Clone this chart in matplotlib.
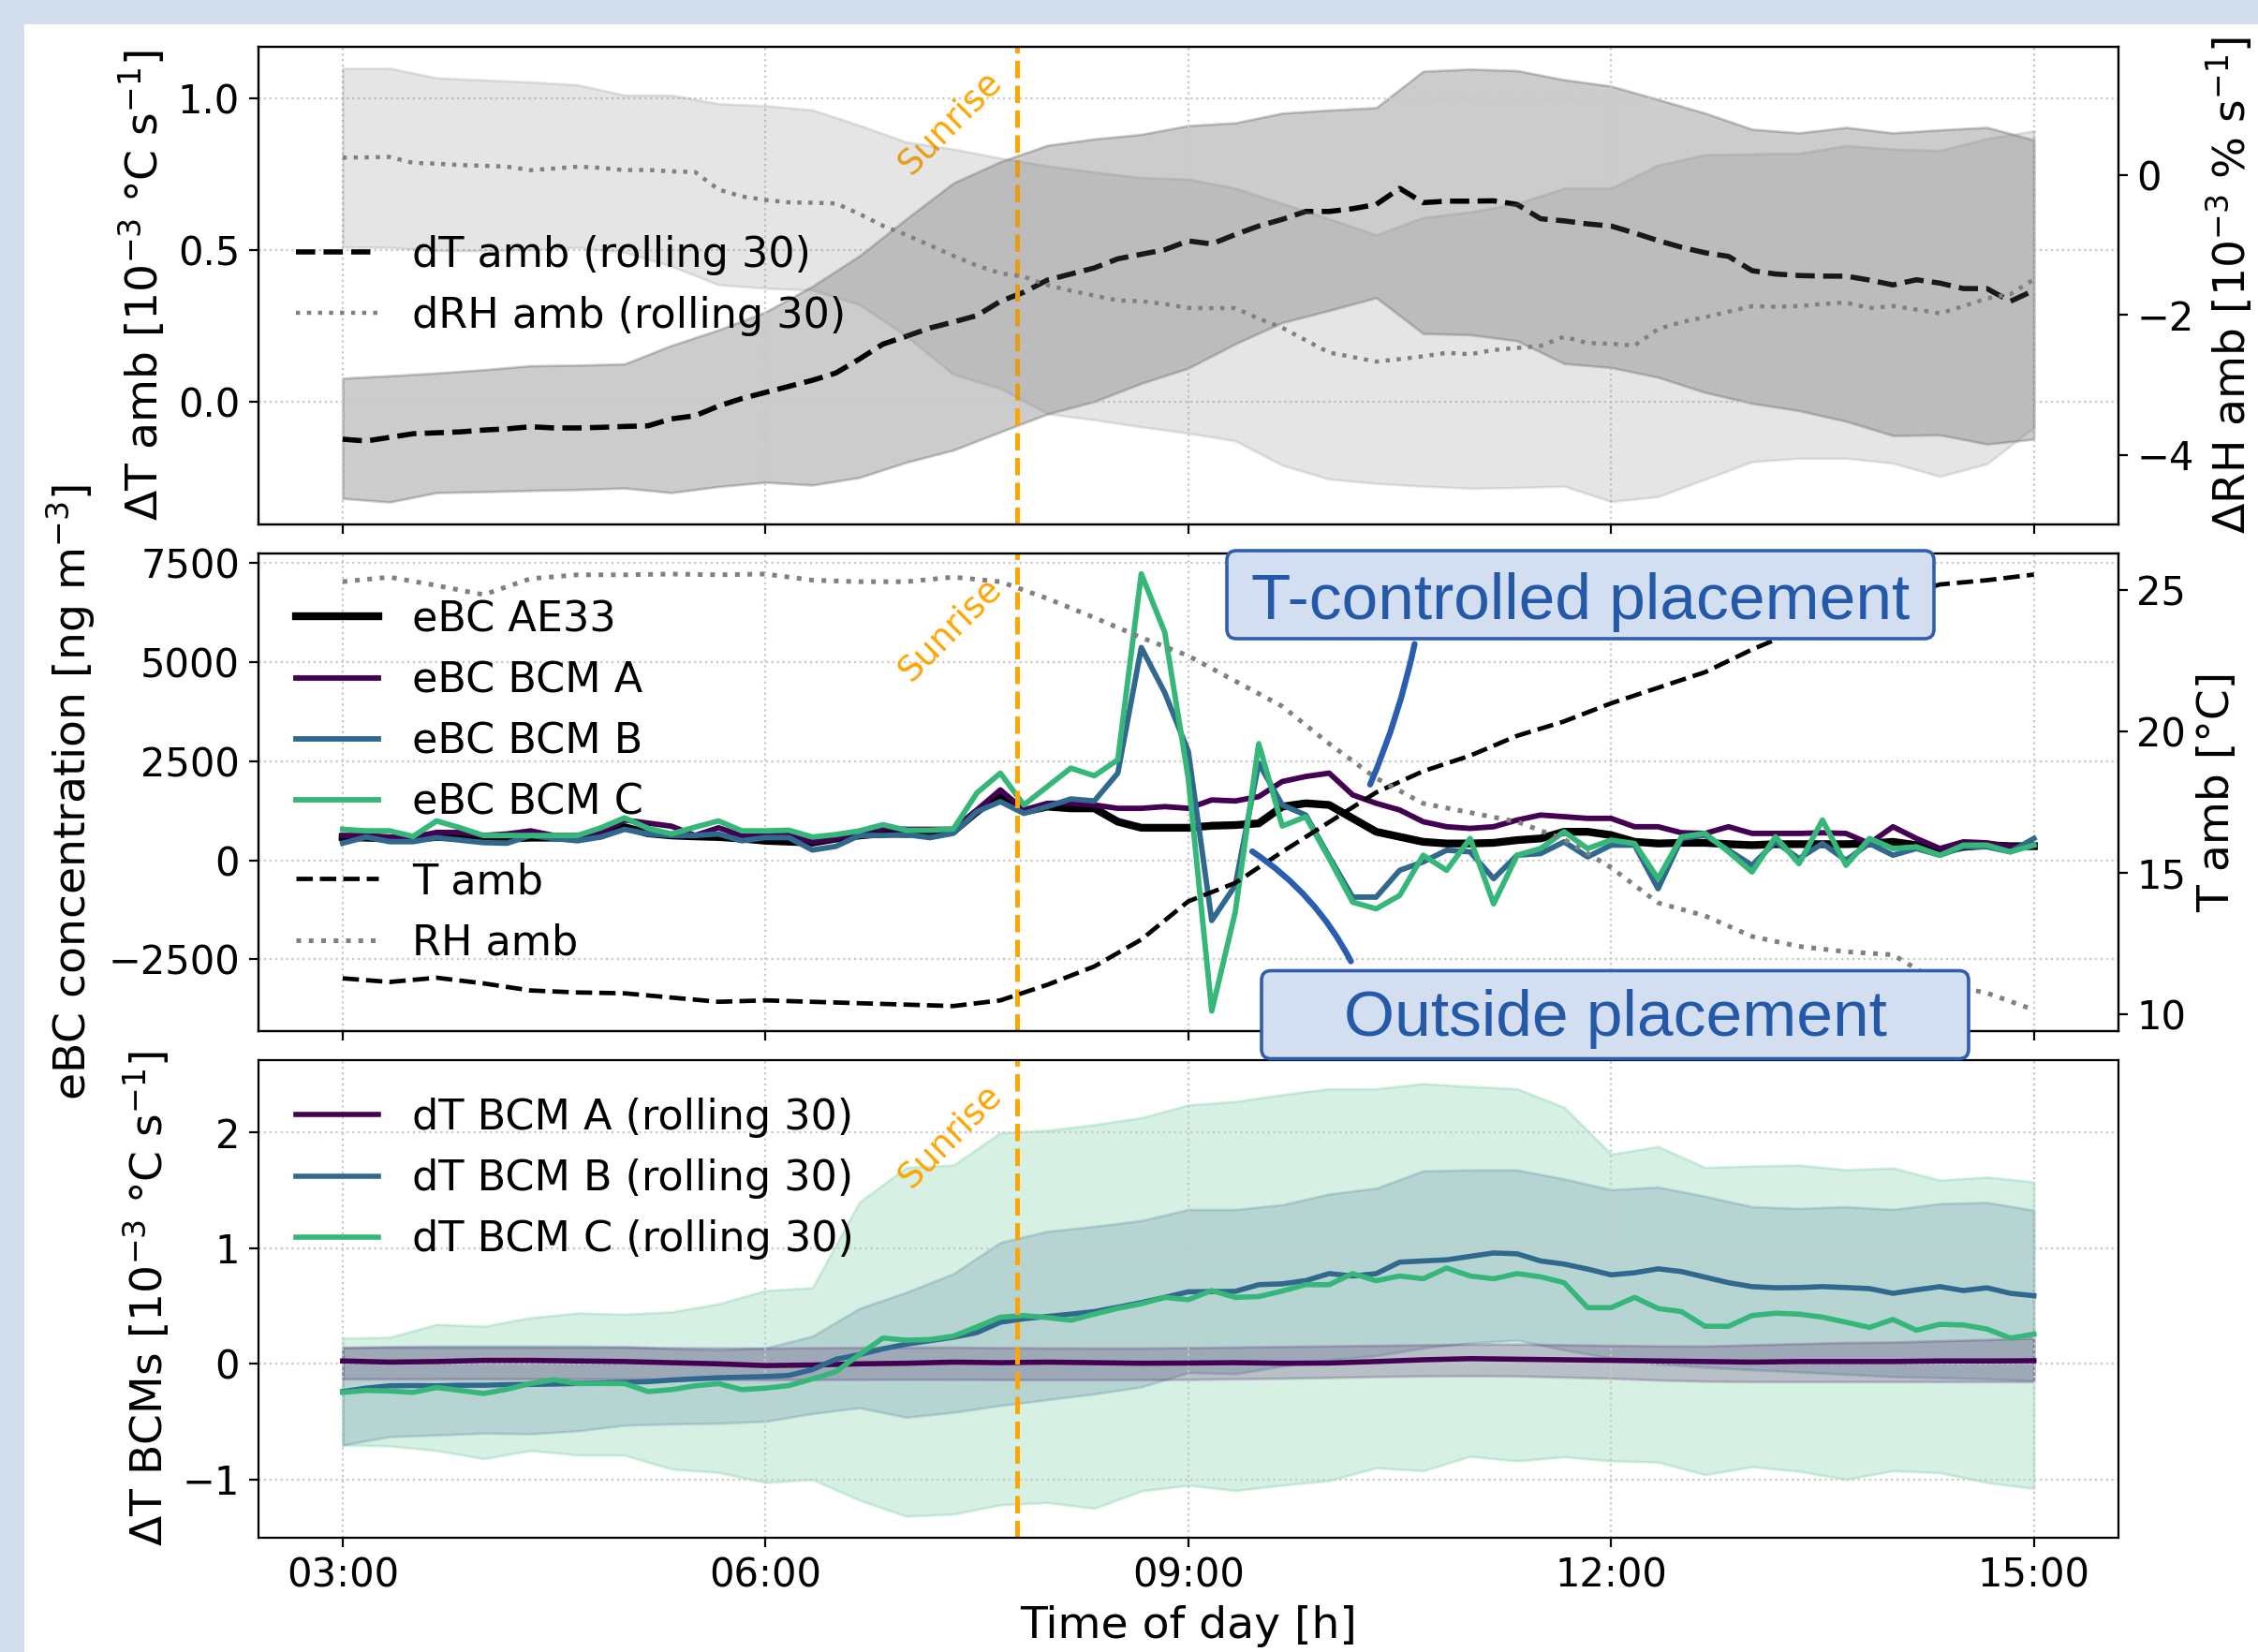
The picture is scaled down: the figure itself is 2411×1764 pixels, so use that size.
import numpy as np
import matplotlib
matplotlib.use("Agg")
import matplotlib.pyplot as plt
import matplotlib.transforms as mtransforms
from matplotlib.patches import FancyBboxPatch, Rectangle
from matplotlib.ticker import FuncFormatter

# time grids (hours of day)
t10 = 3 + np.arange(73) / 6.0   # 10 min steps 03:00 .. 15:00
t20 = 3 + np.arange(37) / 3.0   # 20 min steps 03:00 .. 15:00
sunrise = 7 + 47 / 60

# ---- top panel: ambient derivatives (rolling 30) ----
dT_amb = [-0.124, -0.130, -0.118, -0.106, -0.103, -0.100,
          -0.094, -0.090, -0.083, -0.087, -0.087, -0.085,
          -0.082, -0.080, -0.057, -0.047, -0.015, 0.010,
          0.030, 0.050, 0.070, 0.094, 0.140, 0.189,
          0.215, 0.242, 0.262, 0.283, 0.330, 0.360,
          0.400, 0.420, 0.440, 0.470, 0.485, 0.500,
          0.529, 0.519, 0.550, 0.578, 0.600, 0.626,
          0.626, 0.635, 0.649, 0.702, 0.655, 0.660,
          0.660, 0.661, 0.649, 0.602, 0.595, 0.585,
          0.578, 0.555, 0.530, 0.508, 0.490, 0.478,
          0.431, 0.420, 0.415, 0.413, 0.413, 0.400,
          0.384, 0.401, 0.390, 0.372, 0.372, 0.330,
          0.366]
dRH_amb = [0.256, 0.260, 0.266, 0.180, 0.170, 0.150,
           0.140, 0.127, 0.077, 0.100, 0.127, 0.110,
           0.077, 0.080, 0.060, 0.050, -0.200, -0.300,
           -0.350, -0.385, -0.390, -0.400, -0.550, -0.720,
           -0.850, -1.000, -1.150, -1.290, -1.400, -1.450,
           -1.570, -1.650, -1.720, -1.790, -1.800, -1.840,
           -1.897, -1.900, -1.900, -2.050, -2.180, -2.360,
           -2.537, -2.600, -2.666, -2.630, -2.590, -2.540,
           -2.560, -2.500, -2.470, -2.440, -2.310, -2.400,
           -2.410, -2.435, -2.200, -2.100, -2.030, -1.950,
           -1.871, -1.880, -1.870, -1.840, -1.820, -1.900,
           -1.870, -1.920, -1.975, -1.871, -1.760, -1.700,
           -1.487]
dT_band_lo = [-0.319, -0.331, -0.300, -0.297, -0.293, -0.290,
              -0.285, -0.300, -0.280, -0.266, -0.275, -0.250,
              -0.200, -0.160, -0.100, -0.041, 0.000, 0.060,
              0.110, 0.190, 0.260, 0.300, 0.342, 0.224,
              0.220, 0.200, 0.125, 0.112, 0.080, 0.030,
              -0.006, -0.030, -0.065, -0.112, -0.110, -0.140,
              -0.124]
dT_band_hi = [0.077, 0.085, 0.094, 0.105, 0.118, 0.120,
              0.124, 0.185, 0.236, 0.295, 0.380, 0.480,
              0.602, 0.720, 0.790, 0.844, 0.865, 0.880,
              0.909, 0.918, 0.950, 0.960, 0.968, 1.088,
              1.095, 1.090, 1.060, 1.039, 0.995, 0.950,
              0.897, 0.885, 0.903, 0.885, 0.895, 0.903,
              0.862]
dRH_band_lo = [-1.025, -1.030, -1.077, -1.077, -1.060, -1.030,
               -1.100, -1.300, -1.564, -1.615, -1.640, -1.850,
               -2.300, -2.850, -3.050, -3.410, -3.500, -3.600,
               -3.690, -3.800, -4.150, -4.350, -4.410, -4.450,
               -4.480, -4.470, -4.450, -4.670, -4.600, -4.350,
               -4.100, -4.050, -4.050, -4.120, -4.310, -4.130,
               -3.610]
dRH_band_hi = [1.538, 1.538, 1.400, 1.370, 1.340, 1.300,
               1.153, 1.153, 1.030, 1.000, 0.940, 0.720,
               0.480, 0.380, 0.250, 0.140, 0.050, -0.030,
               -0.050, -0.180, -0.400, -0.620, -0.850, -0.600,
               -0.520, -0.400, -0.180, -0.180, 0.150, 0.300,
               0.310, 0.320, 0.430, 0.380, 0.360, 0.530,
               0.640]

# ---- middle panel: eBC concentrations and ambient T / RH ----
ebc_ae33 = [586, 570, 547, 547, 586, 570, 547, 547, 570, 570, 570, 625,
            836, 680, 625, 602, 586, 547, 492, 469, 445, 547, 625, 680,
            664, 703, 730,
            1227, 1650, 1227, 1354, 1311, 1311, 973, 820, 820, 820, 871,
            888, 931, 1354, 1438, 1396, 1057, 719, 592, 465, 423,
            423, 440, 508, 550, 719, 719, 635, 465, 423, 440, 440, 406,
            381, 406, 406, 406, 406, 423, 465, 381, 212, 338, 381, 355,
            355]
ebc_a = [625, 625, 586, 586, 703, 703, 625, 664, 742, 625, 625, 703,
         1016, 938, 859, 625, 820, 625, 625, 648, 469, 547, 703, 805,
         781, 781, 781,
         1269, 1777, 1269, 1438, 1438, 1396, 1311, 1311, 1354, 1311, 1523,
         1497, 1607, 1988, 2115, 2200, 1650, 1438, 1269, 973, 846,
         804, 846, 1015, 1142, 1100, 1057, 1057, 846, 846, 694, 677, 846,
         677, 677, 677, 694, 677, 423, 846, 550, 296, 465, 440, 338,
         381]
ebc_b = [430, 586, 469, 469, 570, 508, 445, 430, 625, 547, 492, 586,
         781, 664, 625, 625, 664, 492, 570, 570, 258, 352, 625, 625,
         648, 570, 680,
         1227, 1480, 1184, 1354, 1548, 1497, 2200, 5372, 4230, 2750, -1523,
         -635, 2453, 1396, 1142, 85, -931, -931, -254, -42, 254,
         212, -465, 127, 169, 465, 85, 381, 381, -719, 550, 635, 254,
         -127, 465, 42, 423, 0, 423, 127, 296, 127, 338, 338, 212,
         550]
ebc_c = [781, 742, 742, 602, 992, 820, 625, 625, 625, 625, 625, 820,
         1070, 805, 664, 836, 992, 742, 742, 758, 586, 648, 742, 898,
         758, 758, 790,
         1700, 2200, 1396, 1861, 2327, 2132, 2538, 7233, 5753, 2073, -3807,
         -1311, 2944, 863, 1100, 42, -1058, -1227, -888, 127, -254,
         550, -1100, 127, 296, 719, 296, 508, 423, -465, 592, 677, 212,
         -296, 592, -85, 1015, -127, 550, 296, 338, 127, 381, 381, 212,
         381]
t_amb = [11.28, 11.15, 11.30, 11.10, 10.85, 10.78, 10.75, 10.60, 10.45,
         10.50, 10.45, 10.40, 10.35, 10.30, 10.50, 11.05, 11.70, 12.65,
         14.00, 14.65, 15.75, 16.80, 17.85, 18.60, 19.15, 19.85, 20.36,
         21.00, 21.55, 22.10, 22.90, 23.60, 24.20, 24.75, 25.20, 25.35,
         25.55]
rh_amb = [96.0, 96.6, 95.5, 94.3, 96.4, 96.9, 96.9, 97.0, 96.9,
          97.0, 96.2, 96.0, 96.0, 96.6, 96.0, 93.8, 91.3, 88.7,
          86.3, 83.0, 79.7, 74.8, 70.3, 67.0, 65.8, 64.6, 62.3,
          58.6, 54.0, 52.3, 49.6, 48.3, 47.6, 47.2, 43.5, 42.2,
          40.0]

# ---- bottom panel: BCM temperature derivatives (rolling 30) ----
dT_bcm_a = [0.025, 0.015, 0.020, 0.030, 0.030, 0.025, 0.020, 0.010, 0.000,
            -0.015, -0.010, 0.000, 0.005, 0.015, 0.010, 0.015, 0.010, 0.005,
            0.007, 0.010, 0.005, 0.007, 0.020, 0.035, 0.045, 0.040, 0.035,
            0.030, 0.025, 0.020, 0.015, 0.020, 0.020, 0.020, 0.025, 0.025,
            0.027]
dT_bcm_b = [-0.240, -0.210, -0.190, -0.188, -0.190, -0.185,
            -0.185, -0.180, -0.178, -0.175, -0.170, -0.165,
            -0.160, -0.154, -0.140, -0.130, -0.120, -0.115,
            -0.110, -0.100, -0.050, 0.040, 0.080, 0.130,
            0.170, 0.200, 0.230, 0.270, 0.360, 0.390,
            0.410, 0.430, 0.452, 0.490, 0.530, 0.575,
            0.623, 0.625, 0.627, 0.685, 0.692, 0.720,
            0.781, 0.760, 0.780, 0.880, 0.890, 0.900,
            0.930, 0.959, 0.952, 0.890, 0.863, 0.820,
            0.770, 0.788, 0.822, 0.798, 0.750, 0.702,
            0.668, 0.658, 0.660, 0.668, 0.660, 0.651,
            0.610, 0.640, 0.668, 0.634, 0.658, 0.610,
            0.589]
dT_bcm_c = [-0.247, -0.230, -0.235, -0.247, -0.205, -0.230,
            -0.257, -0.220, -0.170, -0.137, -0.171, -0.170,
            -0.171, -0.240, -0.223, -0.190, -0.171, -0.223,
            -0.210, -0.188, -0.130, -0.068, 0.080, 0.223,
            0.205, 0.210, 0.240, 0.320, 0.404, 0.418,
            0.400, 0.377, 0.430, 0.480, 0.520, 0.575,
            0.555, 0.634, 0.575, 0.582, 0.630, 0.685,
            0.685, 0.781, 0.719, 0.760, 0.736, 0.829,
            0.760, 0.736, 0.781, 0.753, 0.702, 0.486,
            0.486, 0.575, 0.479, 0.452, 0.325, 0.325,
            0.418, 0.438, 0.430, 0.404, 0.360, 0.315,
            0.384, 0.291, 0.342, 0.336, 0.301, 0.223,
            0.257]
a_band_lo = [-0.130, -0.131, -0.130, -0.130, -0.130, -0.131, -0.132, -0.133, -0.135,
             -0.137, -0.136, -0.135, -0.134, -0.135, -0.136, -0.137, -0.137, -0.137,
             -0.135, -0.130, -0.125, -0.118, -0.110, -0.105, -0.103, -0.105, -0.115,
             -0.125, -0.140, -0.150, -0.154, -0.154, -0.154, -0.154, -0.154, -0.154,
             -0.154]
a_band_hi = [0.144, 0.145, 0.145, 0.145, 0.145, 0.144, 0.144, 0.140, 0.138,
             0.137, 0.140, 0.142, 0.143, 0.144, 0.140, 0.138, 0.137, 0.137,
             0.140, 0.145, 0.150, 0.155, 0.160, 0.165, 0.170, 0.171, 0.165,
             0.160, 0.155, 0.154, 0.165, 0.175, 0.185, 0.188, 0.200, 0.210,
             0.223]
b_band_lo = [-0.702, -0.630, -0.616, -0.600, -0.605, -0.580, -0.531, -0.520, -0.514,
             -0.497, -0.430, -0.380, -0.462, -0.420, -0.360, -0.310, -0.260, -0.200,
             -0.075, -0.086, -0.020, 0.034, 0.070, 0.137, 0.180, 0.205, 0.120,
             0.050, 0.000, -0.030, -0.051, -0.070, -0.090, -0.110, -0.120, -0.130,
             -0.144]
b_band_hi = [0.137, 0.150, 0.154, 0.154, 0.154, 0.154, 0.150, 0.130, 0.120,
             0.137, 0.240, 0.480, 0.620, 0.780, 1.050, 1.147, 1.190, 1.240,
             1.336, 1.336, 1.377, 1.470, 1.520, 1.670, 1.678, 1.678, 1.600,
             1.507, 1.530, 1.450, 1.360, 1.345, 1.360, 1.336, 1.387, 1.397,
             1.329]
c_band_lo = [-0.702, -0.710, -0.750, -0.820, -0.750, -0.788, -0.790, -0.910, -0.940,
             -1.027, -1.000, -1.180, -1.318, -1.300, -1.220, -1.200, -1.250, -1.100,
             -1.050, -1.096, -1.050, -1.010, -0.900, -0.925, -0.800, -0.840, -0.805,
             -0.839, -0.850, -0.959, -0.890, -0.930, -1.000, -0.925, -0.942, -1.027,
             -1.079]
c_band_hi = [0.223, 0.230, 0.342, 0.325, 0.400, 0.440, 0.430, 0.450, 0.520,
             0.634, 0.660, 1.400, 1.700, 1.720, 2.000, 2.020, 2.070, 2.130,
             2.240, 2.270, 2.330, 2.380, 2.380, 2.425, 2.400, 2.380, 2.220,
             1.815, 1.880, 1.700, 1.712, 1.720, 1.680, 1.695, 1.590, 1.616,
             1.575]

col_a = "#440154"
col_b = "#31688e"
col_c = "#35b779"
blue_txt = "#2458a8"

W, H = 2411, 1764
fig, (ax1, ax2, ax3) = plt.subplots(3, 1, sharex=True, figsize=(W / 200, H / 200), dpi=200)
fig.patch.set_facecolor("#d3deed")
fig.add_artist(Rectangle((26 / W, 0), 1, 1 - 26 / H, transform=fig.transFigure,
                         facecolor="white", edgecolor="none", zorder=-10))
fig.subplots_adjust(left=0.1143, right=0.9382, top=0.9718, bottom=0.0692, hspace=0.061)

TICK = 15
LAB = 17
LEG = 16

# top
ax1.fill_between(t20, dT_band_lo, dT_band_hi, color="black", alpha=0.2)
l1, = ax1.plot(t10, dT_amb, "k--", lw=2, label="dT amb (rolling 30)")
ax1b = ax1.twinx()
ax1b.fill_between(t20, dRH_band_lo, dRH_band_hi, color="grey", alpha=0.2)
l2, = ax1b.plot(t10, dRH_amb, ls=":", color="grey", lw=1.6, label="dRH amb (rolling 30)")
ax1.set_ylim(-0.404, 1.169)
ax1b.set_ylim(-4.995, 1.847)
ax1.set_yticks([0.0, 0.5, 1.0])
ax1b.set_yticks([-4, -2, 0])
ax1.set_ylabel("ΔT amb [10$^{-3}$ °C s$^{-1}$]", fontsize=LAB)
ax1b.set_ylabel("ΔRH amb [10$^{-3}$ % s$^{-1}$]", fontsize=LAB)
ax1b.legend([l1, l2], [l1.get_label(), l2.get_label()], loc="center left",
            frameon=False, fontsize=LEG)

# middle
h_ae, = ax2.plot(t10, ebc_ae33, color="black", lw=3, label="eBC AE33")
h_a, = ax2.plot(t10, ebc_a, color=col_a, lw=2.1, label="eBC BCM A")
h_b, = ax2.plot(t10, ebc_b, color=col_b, lw=2.1, label="eBC BCM B")
h_c, = ax2.plot(t10, ebc_c, color=col_c, lw=2.1, label="eBC BCM C")
ax2b = ax2.twinx()
h_t, = ax2b.plot(t20, t_amb, "k--", lw=1.7, label="T amb")
ax2c = ax2.twinx()
h_rh, = ax2c.plot(t20, rh_amb, ls=":", color="grey", lw=1.8, label="RH amb")
ax2c.set_ylim(37.24, 99.71)
ax2c.axis("off")
ax2.set_ylim(-4311, 7751)
ax2.set_yticks([-2500, 0, 2500, 5000, 7500])
ax2b.set_ylim(9.42, 26.30)
ax2b.set_yticks([10, 15, 20, 25])
ax2.set_ylabel("eBC concentration [ng m$^{-3}$]", fontsize=LAB)
ax2b.set_ylabel("T amb [°C]", fontsize=LAB)
hs1 = [h_ae, h_a, h_b, h_c]
leg1 = ax2c.legend(hs1, [h.get_label() for h in hs1], loc="upper left",
                   bbox_to_anchor=(0, 0.982), frameon=False, fontsize=LEG)
ax2c.add_artist(leg1)
hs2 = [h_t, h_rh]
ax2c.legend(hs2, [h.get_label() for h in hs2], loc="upper left",
            bbox_to_anchor=(0, 0.433), frameon=False, fontsize=LEG)

# bottom
ax3.fill_between(t20, c_band_lo, c_band_hi, color=col_c, alpha=0.2)
ax3.fill_between(t20, b_band_lo, b_band_hi, color=col_b, alpha=0.2)
ax3.fill_between(t20, a_band_lo, a_band_hi, color=col_a, alpha=0.2)
ax3.plot(t20, dT_bcm_a, color=col_a, lw=2, label="dT BCM A (rolling 30)")
ax3.plot(t10, dT_bcm_b, color=col_b, lw=2, label="dT BCM B (rolling 30)")
ax3.plot(t10, dT_bcm_c, color=col_c, lw=2, label="dT BCM C (rolling 30)")
ax3.set_ylim(-1.504, 2.628)
ax3.set_yticks([-1, 0, 1, 2])
ax3.set_ylabel("ΔT BCMs [10$^{-3}$ °C s$^{-1}$]", fontsize=LAB)
ax3.legend(loc="upper left", frameon=False, fontsize=LEG)
ax3.set_xlim(2.4, 15.6)
ax3.set_xticks([3, 6, 9, 12, 15])
ax3.xaxis.set_major_formatter(FuncFormatter(lambda v, p: "%02d:00" % int(round(v))))
ax3.set_xlabel("Time of day [h]", fontsize=LAB)

for ax in (ax1, ax2, ax3):
    ax.grid(True, ls=":", color="#c8c8c8", lw=0.8)
    ax.axvline(sunrise, color="orange", ls="--", lw=1.8)
    tr = mtransforms.blended_transform_factory(ax.transData, ax.transAxes)
    ax.text(sunrise - 0.06, 0.84, "Sunrise", transform=tr, rotation=45,
            ha="right", va="center", color="orange", fontsize=13.5)
for ax in (ax1, ax1b, ax2, ax2b, ax3):
    ax.tick_params(labelsize=TICK)

# callouts
for (x0, y0, txt, tx, ty) in [(1310, 682, "T-controlled placement", 1688, 661),
                              (1347, 1130.5, "Outside placement", 1725, 1106)]:
    box = FancyBboxPatch((x0 / W, 1 - y0 / H), 755 / W, 94 / H,
                         boxstyle="round,pad=0,rounding_size=0.0042",
                         mutation_aspect=W / H, transform=fig.transFigure,
                         facecolor="#d3dff0", edgecolor="#2f5eae", lw=1.3, zorder=5)
    fig.add_artist(box)
    fig.text(tx / W, 1 - ty / H, txt, ha="center", va="baseline", fontsize=25,
             color=blue_txt, family="Liberation Sans", zorder=6)

ax2c.annotate("", xy=(10.290, 1911), xytext=(10.606, 5462), xycoords=ax2.transData,
              textcoords=ax2.transData, annotation_clip=False,
              arrowprops=dict(arrowstyle="-", color="#2a5db0", lw=2.3,
                              connectionstyle="arc3,rad=-0.05", shrinkA=0, shrinkB=0))
ax2c.annotate("", xy=(9.454, 223), xytext=(10.154, -2552), xycoords=ax2.transData,
              textcoords=ax2.transData, annotation_clip=False,
              arrowprops=dict(arrowstyle="-", color="#2a5db0", lw=2.3,
                              connectionstyle="arc3,rad=0.13", shrinkA=0, shrinkB=0))

fig.savefig("out.png", dpi=200)
